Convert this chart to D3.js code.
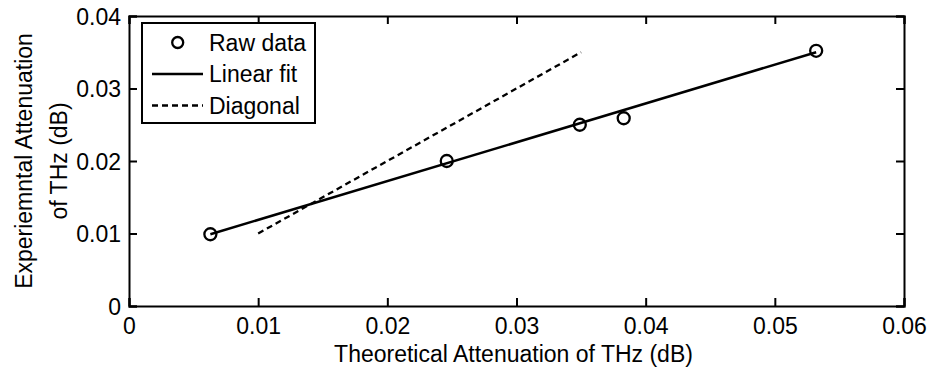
<!DOCTYPE html>
<html>
<head>
<meta charset="utf-8">
<script src="https://cdn.jsdelivr.net/npm/d3@7"></script>
<style>
  html, body { margin: 0; padding: 0; background: #fff; }
  svg text { font-family: "Liberation Sans", Arial, Helvetica, sans-serif; fill: #000; }
</style>
</head>
<body>
<svg id="chart" width="931" height="370"></svg>
<script>
// ---- data ----
const rawX = [0.0063, 0.0246, 0.0349, 0.0383, 0.0532];
const rawY = [0.0099, 0.0200, 0.0250, 0.0259, 0.0352];
const fitX = [0.0063, 0.0532];
const fitY = [0.0099, 0.0350];
const diagX = [0.010, 0.035];
const diagY = [0.010, 0.035];
const xTicks = [0, 0.01, 0.02, 0.03, 0.04, 0.05, 0.06];
const yTicks = [0, 0.01, 0.02, 0.03, 0.04];
const xTickLabels = ["0", "0.01", "0.02", "0.03", "0.04", "0.05", "0.06"];
const yTickLabels = ["0", "0.01", "0.02", "0.03", "0.04"];
const legendLabels = ["Raw data", "Linear fit", "Diagonal"];
const xTitle = "Theoretical Attenuation of THz (dB)";
const yTitleLines = ["Experiemntal Attenuation", "of THz (dB)"];

// ---- layout ----
const L = 129, R = 904, T = 16, B = 306;
const fs = 23;
const svg = d3.select("#chart");
const x = d3.scaleLinear().domain([0, 0.06]).range([L, R]);
const y = d3.scaleLinear().domain([0, 0.04]).range([B, T]);

// axes (box with inward ticks)
const tickLen = 8;
const axB = svg.append("g").attr("transform", `translate(0,${B})`)
  .call(d3.axisBottom(x).tickValues(xTicks).tickSize(-tickLen)
    .tickFormat((d, i) => xTickLabels[i]));
const axT = svg.append("g").attr("transform", `translate(0,${T})`)
  .call(d3.axisTop(x).tickValues(xTicks).tickSize(-tickLen).tickFormat(""));
const axL = svg.append("g").attr("transform", `translate(${L},0)`)
  .call(d3.axisLeft(y).tickValues(yTicks).tickSize(-tickLen).tickPadding(8)
    .tickFormat((d, i) => yTickLabels[i]));
const axR = svg.append("g").attr("transform", `translate(${R},0)`)
  .call(d3.axisRight(y).tickValues(yTicks).tickSize(-tickLen).tickFormat(""));

[axB, axT, axL, axR].forEach(g => {
  g.select(".domain").attr("stroke", "#000").attr("stroke-width", 2);
  g.selectAll(".tick line").attr("stroke", "#000").attr("stroke-width", 2);
  g.selectAll(".tick text").attr("font-size", fs).attr("font-family", "Liberation Sans, Arial, sans-serif").attr("fill", "#000");
});
axB.selectAll(".tick text").attr("dy", null).attr("y", 28);
axL.selectAll(".tick text").attr("dy", "0.35em");

// axis titles
svg.append("text")
  .attr("x", (L + R) / 2 - 3).attr("y", 361.5)
  .attr("text-anchor", "middle").attr("font-size", fs)
  .text(xTitle);
const yt = svg.append("text")
  .attr("transform", `translate(0,${(T + B) / 2}) rotate(-90)`)
  .attr("text-anchor", "middle").attr("font-size", fs);
yt.append("tspan").attr("x", 0).attr("y", 32).text(yTitleLines[0]);
yt.append("tspan").attr("x", 0).attr("y", 66.5).text(yTitleLines[1]);

// lines
const line = d3.line().x(d => x(d[0])).y(d => y(d[1]));
svg.append("path")
  .datum(diagX.map((v, i) => [v, diagY[i]]))
  .attr("d", line).attr("fill", "none").attr("stroke", "#000")
  .attr("stroke-width", 2.3).attr("stroke-dasharray", "6,4");
svg.append("path")
  .datum(fitX.map((v, i) => [v, fitY[i]]))
  .attr("d", line).attr("fill", "none").attr("stroke", "#000")
  .attr("stroke-width", 2.5);

// raw data circles
svg.selectAll("circle.raw")
  .data(rawX.map((v, i) => [v, rawY[i]]))
  .join("circle").attr("class", "raw")
  .attr("cx", d => x(d[0])).attr("cy", d => y(d[1]))
  .attr("r", 6).attr("fill", "none").attr("stroke", "#000").attr("stroke-width", 2.3);

// legend
const lg = svg.append("g");
lg.append("rect").attr("x", 142).attr("y", 23).attr("width", 173).attr("height", 100)
  .attr("fill", "#fff").attr("stroke", "#000").attr("stroke-width", 2);
const rowY = [42.5, 74, 105.5];
lg.append("circle").attr("cx", 177.7).attr("cy", rowY[0]).attr("r", 5.5)
  .attr("fill", "none").attr("stroke", "#000").attr("stroke-width", 2.3);
lg.append("line").attr("x1", 152).attr("x2", 203).attr("y1", rowY[1]).attr("y2", rowY[1])
  .attr("stroke", "#000").attr("stroke-width", 2.5);
lg.append("line").attr("x1", 152).attr("x2", 203).attr("y1", rowY[2]).attr("y2", rowY[2])
  .attr("stroke", "#000").attr("stroke-width", 2.3).attr("stroke-dasharray", "6,4");
legendLabels.forEach((t, i) => {
  lg.append("text").attr("x", 209).attr("y", rowY[i] + 8.3)
    .attr("font-size", fs).text(t);
});
</script>
</body>
</html>
